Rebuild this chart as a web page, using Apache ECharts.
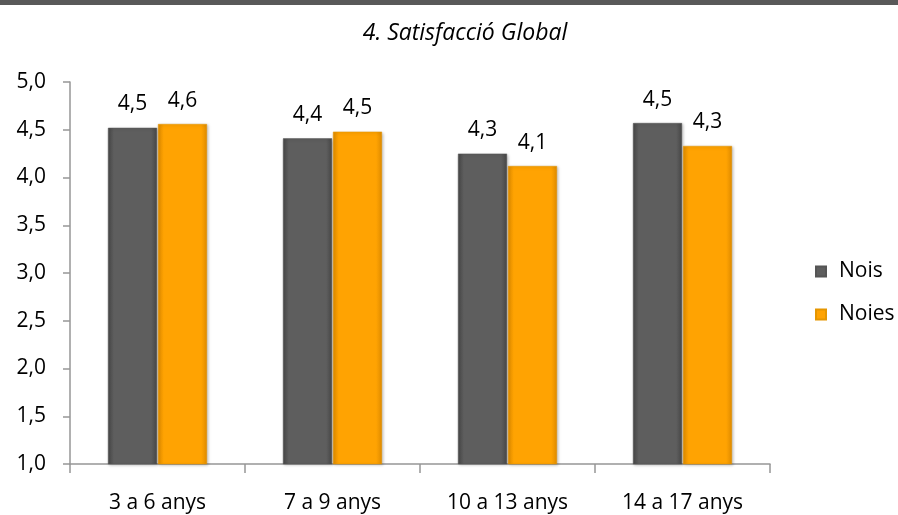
<!DOCTYPE html>
<html>
<head>
<meta charset="utf-8">
<script src="https://cdn.jsdelivr.net/npm/echarts@6/dist/echarts.min.js"></script>
<style>html,body{margin:0;padding:0;background:#fff}#c{width:898px;height:515px}</style>
</head>
<body>
<div id="c"></div>
<script>
const categories = ['3 a 6 anys', '7 a 9 anys', '10 a 13 anys', '14 a 17 anys'];
const noisValues = [4.52, 4.41, 4.25, 4.57];
const noiesValues = [4.56, 4.48, 4.12, 4.33];
const noisLabels = ['4,5', '4,4', '4,3', '4,5'];
const noiesLabels = ['4,6', '4,5', '4,1', '4,3'];
const yTicks = [1.0, 1.5, 2.0, 2.5, 3.0, 3.5, 4.0, 4.5, 5.0];

const FONT = '"Open Sans", "Liberation Sans", sans-serif';
const chart = echarts.init(document.getElementById('c'), null, {renderer: 'canvas'});

function grad(edge, mid) {
  return new echarts.graphic.LinearGradient(0, 0, 1, 0, [
    {offset: 0, color: edge}, {offset: 0.12, color: mid},
    {offset: 0.88, color: mid}, {offset: 1, color: edge}
  ]);
}

chart.setOption({
  animation: false,
  graphic: [{type: 'rect', shape: {x: 0, y: 0, width: 898, height: 5}, style: {fill: '#595959'}}],
  title: {
    text: '4. Satisfacció Global', left: 460, top: 17, textAlign: 'center',
    textStyle: {fontFamily: FONT, fontStyle: 'italic', fontWeight: 'normal', fontSize: 23, color: '#000'}
  },
  legend: {
    orient: 'vertical', left: 810, top: 256, itemWidth: 10, itemHeight: 10, itemGap: 22, icon: 'rect',
    textStyle: {fontFamily: FONT, fontSize: 21, color: '#000', padding: [0, 0, 0, 8]},
    data: ['Nois', 'Noies']
  },
  grid: {left: 70, right: 128, top: 82, bottom: 51, containLabel: false},
  xAxis: {
    type: 'category', data: categories,
    axisLine: {lineStyle: {color: '#969696', width: 1.5}},
    axisTick: {show: true, length: 9, lineStyle: {color: '#969696', width: 1.5}},
    axisLabel: {fontFamily: FONT, fontSize: 21, color: '#000', margin: 29}
  },
  yAxis: {
    type: 'value', min: yTicks[0], max: yTicks[yTicks.length - 1], interval: 0.5,
    axisLine: {show: true, lineStyle: {color: '#969696', width: 1.5}},
    axisTick: {show: true, length: 7, lineStyle: {color: '#969696', width: 1.5}},
    splitLine: {show: false},
    axisLabel: {fontFamily: FONT, fontSize: 21, color: '#000', margin: 24,
      formatter: v => v.toFixed(1).replace('.', ',')}
  },
  series: [
    {
      name: 'Nois', type: 'bar', data: noisValues, barWidth: 49, barGap: '2%',
      itemStyle: {color: grad('#474747', '#5e5e5e'), borderColor: '#555', borderWidth: 0.5,
        shadowColor: 'rgba(0,0,0,0.25)', shadowBlur: 3, shadowOffsetX: 1, shadowOffsetY: 1},
      label: {show: true, position: 'top', distance: 13, fontFamily: FONT, fontSize: 21, color: '#000',
        formatter: p => noisLabels[p.dataIndex]}
    },
    {
      name: 'Noies', type: 'bar', data: noiesValues, barWidth: 49,
      itemStyle: {color: grad('#e08c00', '#ffa302'), borderColor: '#e59600', borderWidth: 0.5,
        shadowColor: 'rgba(0,0,0,0.25)', shadowBlur: 3, shadowOffsetX: 1, shadowOffsetY: 1},
      label: {show: true, position: 'top', distance: 13, fontFamily: FONT, fontSize: 21, color: '#000',
        formatter: p => noiesLabels[p.dataIndex]}
    }
  ]
});
</script>
</body>
</html>
